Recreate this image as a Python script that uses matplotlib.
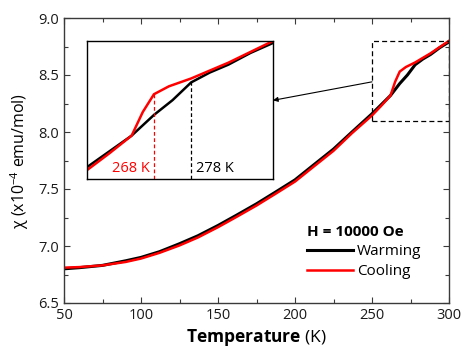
import numpy as np
import matplotlib
matplotlib.use('Agg')
import matplotlib.pyplot as plt
from matplotlib.patches import Rectangle

plt.rcParams['font.family'] = ['Open Sans', 'DejaVu Sans']
plt.rcParams['mathtext.fontset'] = 'custom'
plt.rcParams['mathtext.rm'] = 'Open Sans'
plt.rcParams['mathtext.bf'] = 'Open Sans:bold'

# data
temp_warm = [50, 60, 75, 90, 100, 112, 125, 137, 150, 162, 175, 187, 200, 212, 225,
             237, 250, 256, 262, 268, 273, 278, 283, 288, 294, 300]
chi_warm = [6.80, 6.81, 6.83, 6.87, 6.90, 6.95, 7.02, 7.09, 7.18, 7.27, 7.37, 7.47, 7.58,
            7.71, 7.85, 8.00, 8.16, 8.24, 8.32, 8.425, 8.50, 8.59, 8.64, 8.68, 8.74, 8.79]
temp_cool = [50, 60, 75, 90, 100, 112, 125, 137, 150, 162, 175, 187, 200, 212, 225,
             237, 250, 256, 262, 263, 265, 268, 272, 275, 278, 283, 288, 294, 300]
chi_cool = [6.81, 6.815, 6.83, 6.86, 6.89, 6.94, 7.005, 7.075, 7.165, 7.255, 7.355, 7.455,
            7.565, 7.695, 7.835, 7.99, 8.145, 8.23, 8.32, 8.36, 8.44, 8.53, 8.57, 8.59,
            8.61, 8.65, 8.69, 8.745, 8.80]
t_cool_mark = 268
t_warm_mark = 278
zoom_x = (250, 300)
zoom_y = (8.1, 8.8)

red = '#ff0000'
spine_c = '#3a3a3a'

fig = plt.figure(figsize=(4.75, 3.57), dpi=100)
ax = fig.add_axes([64/475, 1-303/357, 385/475, 285/357])

ax.plot(temp_warm, chi_warm, color='black', lw=2.2, label='Warming')
ax.plot(temp_cool, chi_cool, color=red, lw=1.8, label='Cooling')

ax.set_xlim(50, 300)
ax.set_ylim(6.5, 9.0)
ax.set_xticks([50, 100, 150, 200, 250, 300])
ax.set_xticks(np.arange(75, 300, 50), minor=True)
ax.set_yticks([6.5, 7.0, 7.5, 8.0, 8.5, 9.0])
ax.set_yticks(np.arange(6.75, 9.0, 0.5), minor=True)
ax.set_yticklabels(['6.5', '7.0', '7.5', '8.0', '8.5', '9.0'])
ax.tick_params(which='both', direction='in', top=True, right=True, color=spine_c,
               labelsize=10.5, labelcolor='#1a1a1a', width=0.8)
ax.tick_params(which='major', length=4)
ax.tick_params(which='minor', length=3)
for s in ax.spines.values():
    s.set_color(spine_c)
    s.set_linewidth(1.0)

ax.set_xlabel(r'$\mathbf{Temperature}$ (K)', fontsize=12.5, labelpad=3)
ax.set_ylabel(r'χ (x10$^{-4}$ emu/mol)', fontsize=11.5, labelpad=5)

# zoom box
ax.add_patch(Rectangle((zoom_x[0], zoom_y[0]), zoom_x[1]-zoom_x[0], zoom_y[1]-zoom_y[0],
                       fill=False, ls=(0, (4, 2.5)), lw=0.9, color='black', zorder=5))

leg = ax.legend(title='H = 10000 Oe', loc='lower right', bbox_to_anchor=(0.965, 0.035),
                frameon=False, fontsize=11, handlelength=3.0, handletextpad=0.3,
                labelspacing=0.35, alignment='left',
                title_fontproperties={'weight': 'bold', 'size': 11})

# inset
axin = fig.add_axes([87/475, 1-179/357, 186/475, 138/357])
axin.plot(temp_warm, chi_warm, color='black', lw=1.8)
axin.plot(temp_cool, chi_cool, color=red, lw=1.8)
axin.set_xlim(*zoom_x)
axin.set_ylim(*zoom_y)
axin.set_xticks([])
axin.set_yticks([])
for s in axin.spines.values():
    s.set_linewidth(1.0)
    s.set_color('black')

yc = chi_cool[temp_cool.index(t_cool_mark)]
yw = chi_warm[temp_warm.index(t_warm_mark)]
axin.plot([t_cool_mark, t_cool_mark], [zoom_y[0], yc], color=red, ls=(0, (3, 2)), lw=0.9)
axin.plot([t_warm_mark, t_warm_mark], [zoom_y[0], yw], color='black', ls=(0, (3, 2)), lw=0.9)
axin.text(t_cool_mark - 1.0, 8.135, '268 K', color=red, fontsize=10.5, ha='right', va='baseline')
axin.text(t_warm_mark + 1.2, 8.135, '278 K', color='black', fontsize=10.5, ha='left', va='baseline')

ax.annotate('', xy=(1.0, 0.57), xycoords=axin.transAxes,
            xytext=(zoom_x[0], 8.44), textcoords='data',
            arrowprops=dict(arrowstyle='-|>', color='black', lw=0.8,
                            mutation_scale=7, shrinkA=0, shrinkB=0))

fig.savefig('out.png', dpi=100)
